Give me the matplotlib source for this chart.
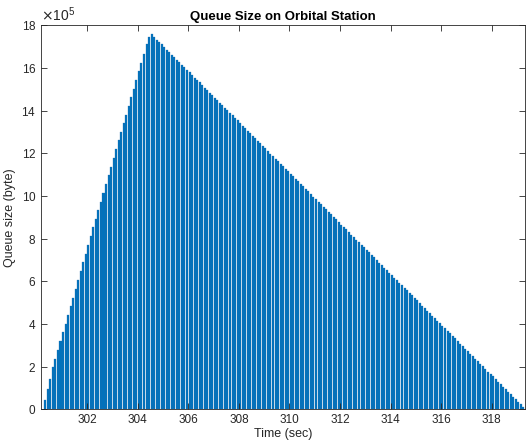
import matplotlib
matplotlib.use("Agg")
import matplotlib.pyplot as plt
import numpy as np

plt.rcParams['font.family'] = ['Liberation Sans', 'DejaVu Sans']

# Time axis: regular sampling
t_start = 300.35
t_step = 0.1

# Queue size in units of 1e5 bytes
rising = [0.44, 0.94, 1.43, 1.96, 2.38, 2.79, 3.18, 3.60, 4.01, 4.42,
          4.83, 5.24, 5.65, 6.06, 6.48, 6.89, 7.30, 7.71, 8.12, 8.53,
          8.94, 9.34, 9.74, 10.14, 10.55, 10.97, 11.38, 11.79, 12.19, 12.60,
          13.00, 13.41, 13.81, 14.22, 14.62, 15.03, 15.43, 15.84, 16.24, 16.67,
          17.13, 17.45]
falling = [17.57, 17.45, 17.33, 17.21, 17.10, 16.98, 16.86, 16.74, 16.62, 16.50,
           16.38, 16.26, 16.14, 16.03, 15.91, 15.79, 15.67, 15.55, 15.44, 15.32,
           15.20, 15.08, 14.96, 14.84, 14.73, 14.61, 14.49, 14.37, 14.25, 14.13,
           14.01, 13.89, 13.78, 13.66, 13.54, 13.42, 13.30, 13.18, 13.06, 12.94,
           12.82, 12.71, 12.59, 12.47, 12.35, 12.23, 12.11, 11.99, 11.87, 11.75,
           11.63, 11.52, 11.40, 11.28, 11.16, 11.04, 10.92, 10.80, 10.68, 10.57,
           10.45, 10.33, 10.21, 10.09, 9.97, 9.85, 9.73, 9.62, 9.50, 9.38,
           9.26, 9.14, 9.02, 8.90, 8.78, 8.66, 8.55, 8.43, 8.31, 8.19,
           8.07, 7.95, 7.83, 7.71, 7.59, 7.48, 7.36, 7.24, 7.12, 7.00,
           6.88, 6.76, 6.64, 6.53, 6.41, 6.29, 6.17, 6.05, 5.93, 5.81,
           5.70, 5.58, 5.46, 5.34, 5.22, 5.10, 4.98, 4.86, 4.74, 4.63,
           4.51, 4.39, 4.27, 4.15, 4.03, 3.91, 3.79, 3.67, 3.56, 3.44,
           3.32, 3.20, 3.08, 2.96, 2.84, 2.72, 2.61, 2.49, 2.37, 2.25,
           2.13, 2.01, 1.89, 1.77, 1.66, 1.54, 1.42, 1.30, 1.18, 1.06,
           0.95, 0.83, 0.71, 0.59, 0.47, 0.35, 0.24, 0.12]
scale = 1e5

x_ticks = [302, 304, 306, 308, 310, 312, 314, 316, 318]
y_ticks = [0, 2, 4, 6, 8, 10, 12, 14, 16, 18]

values = np.array(rising + falling) * scale
times = t_start + t_step * np.arange(len(values))

fig = plt.figure(figsize=(5.26, 4.46), dpi=100)
ax = fig.add_axes([0.078, 0.0823, 0.92, 0.861])

ax.bar(times, values, width=0.8 * t_step, color='#0072BD',
       edgecolor='#1d6fae', linewidth=0.2)

ax.set_xlim(300.18, 319.31)
ax.set_ylim(0, 18e5)
ax.set_xticks(x_ticks)
ax.set_yticks([v * scale for v in y_ticks])
ax.ticklabel_format(axis='y', style='sci', scilimits=(5, 5), useMathText=True)
ax.yaxis.get_offset_text().set_fontsize(10)
ax.yaxis.get_offset_text().set_color('#262626')

for s in ax.spines.values():
    s.set_color('#262626')
    s.set_linewidth(0.6)
ax.tick_params(direction='in', top=True, right=True, length=4, width=0.6,
               colors='#262626', labelsize=8.5)

ax.set_title('Queue Size on Orbital Station', fontsize=9.5, fontweight='bold',
             color='black', pad=4)
ax.set_xlabel('Time (sec)', fontsize=9, color='#262626', labelpad=1)
ax.set_ylabel('Queue size (byte)', fontsize=9, color='#262626', labelpad=4)

fig.savefig('out.png', dpi=100)
